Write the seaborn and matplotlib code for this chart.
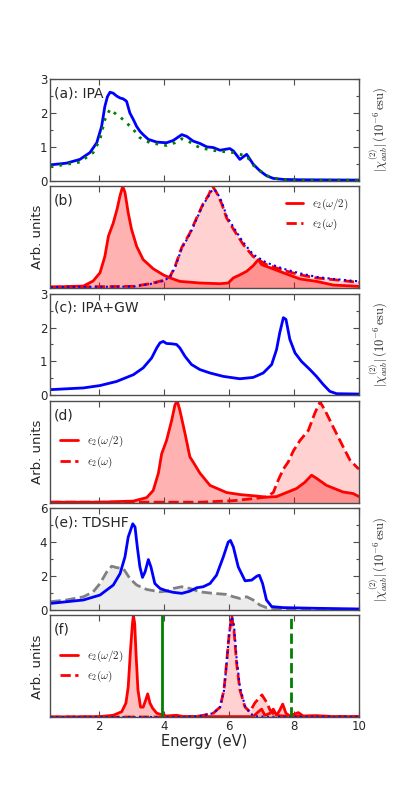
import numpy as np
import matplotlib
matplotlib.use("Agg")
import matplotlib.pyplot as plt
from matplotlib.ticker import MultipleLocator
import seaborn as sns

# ---- data ----
# (a) IPA
a_E_chi = [0.5, 0.99, 1.40, 1.71, 1.92, 2.07, 2.17, 2.25, 2.33, 2.43, 2.53, 2.62, 2.67, 2.72, 2.79, 2.84, 2.94,
           3.05, 3.15, 3.25, 3.35, 3.51, 3.77, 4.07, 4.28, 4.54, 4.69, 4.89, 5.10, 5.31, 5.51, 5.72, 6.02, 6.13,
           6.33, 6.54, 6.74, 6.95, 7.15, 7.36, 7.67, 8.18, 10.0]
a_chi = [0.47, 0.52, 0.63, 0.83, 1.12, 1.6, 2.19, 2.48, 2.61, 2.58, 2.5, 2.45, 2.43, 2.42, 2.38, 2.34, 2.0,
         1.8, 1.6, 1.46, 1.36, 1.22, 1.14, 1.12, 1.19, 1.36, 1.31, 1.17, 1.10, 1.0, 0.98, 0.9, 0.95, 0.88,
         0.63, 0.78, 0.49, 0.29, 0.15, 0.07, 0.04, 0.03, 0.02]
a_E_alt = [0.5, 1.40, 1.81, 2.02, 2.17, 2.33, 2.48, 2.74, 3.05, 3.25, 3.56, 4.07, 4.33, 4.54, 4.79, 5.10, 5.61,
           6.13, 6.54, 6.74, 7.15, 7.56, 8.18, 10.0]
a_chi_alt = [0.41, 0.55, 0.83, 1.22, 1.8, 2.11, 1.99, 1.8, 1.51, 1.27, 1.12, 1.04, 1.12, 1.24, 1.14, 0.97, 0.88,
             0.83, 0.73, 0.46, 0.15, 0.04, 0.02, 0.02]

# (b) IPA eps2
b_E_half = [0.5, 1.51, 1.81, 2.02, 2.17, 2.28, 2.43, 2.55, 2.64, 2.72, 2.79, 2.89, 2.99, 3.15, 3.35, 3.66, 3.97,
            4.18, 4.48, 5.10, 5.72, 5.97, 6.13, 6.33, 6.54, 6.74, 6.90, 7.00, 7.26, 7.67, 8.18, 8.69, 9.21, 10.0]
b_eps_half = [0.01, 0.02, 0.07, 0.15, 0.31, 0.51, 0.64, 0.78, 0.91, 1.0, 0.94, 0.74, 0.58, 0.41, 0.28, 0.19, 0.13,
              0.10, 0.066, 0.05, 0.043, 0.05, 0.1, 0.13, 0.165, 0.22, 0.28, 0.23, 0.2, 0.15, 0.09, 0.066, 0.03, 0.017]
b_E_full = [0.5, 3.05, 3.56, 3.97, 4.18, 4.33, 4.54, 4.79, 5.00, 5.20, 5.36, 5.49, 5.61, 5.77, 5.92, 6.13, 6.43,
            6.74, 7.15, 7.67, 8.18, 8.69, 9.21, 10.0]
b_eps_full = [0.01, 0.017, 0.043, 0.076, 0.115, 0.21, 0.40, 0.54, 0.69, 0.83, 0.91, 1.0, 0.94, 0.83, 0.69, 0.58, 0.43,
              0.31, 0.23, 0.175, 0.13, 0.1, 0.083, 0.056]
b_eps_full_blue = [0.01, 0.015, 0.04, 0.07, 0.11, 0.20, 0.39, 0.53, 0.68, 0.82, 0.90, 0.97, 0.95, 0.85, 0.71, 0.60,
                   0.45, 0.33, 0.25, 0.19, 0.145, 0.11, 0.09, 0.066]

# (c) IPA+GW
c_E = [0.5, 1.51, 2.02, 2.53, 3.05, 3.35, 3.61, 3.77, 3.87, 3.97, 4.07, 4.23, 4.38, 4.48, 4.64, 4.84, 5.10, 5.41,
       5.82, 6.33, 6.74, 7.05, 7.31, 7.46, 7.56, 7.67, 7.75, 7.87, 8.03, 8.23, 8.49, 8.69, 8.90, 9.10, 9.31, 10.0]
c_chi = [0.17, 0.22, 0.29, 0.41, 0.61, 0.81, 1.1, 1.4, 1.55, 1.59, 1.53, 1.52, 1.5, 1.4, 1.15, 0.91, 0.76, 0.66,
         0.56, 0.49, 0.53, 0.66, 0.91, 1.35, 1.85, 2.29, 2.24, 1.65, 1.25, 1.0, 0.76, 0.56, 0.32, 0.12, 0.05, 0.04]

# (d) IPA+GW eps2
d_E_half = [0.5, 2.02, 3.05, 3.46, 3.66, 3.82, 3.92, 4.07, 4.23, 4.33, 4.40, 4.48, 4.64, 4.79, 4.89, 5.10, 5.41,
            5.92, 6.33, 6.85, 7.15, 7.46, 7.77, 8.08, 8.33, 8.54, 8.69, 9.00, 9.51, 9.82, 10.0]
d_eps_half = [0.005, 0.005, 0.016, 0.05, 0.12, 0.29, 0.48, 0.61, 0.81, 0.96, 1.0, 0.91, 0.68, 0.45, 0.40, 0.29, 0.17,
              0.10, 0.08, 0.065, 0.055, 0.06, 0.10, 0.14, 0.2, 0.27, 0.24, 0.17, 0.105, 0.09, 0.06]
d_E_full = [0.5, 5.10, 6.13, 6.74, 7.15, 7.36, 7.51, 7.67, 7.82, 7.98, 8.18, 8.44, 8.64, 8.80, 8.95, 9.21, 9.51,
            9.72, 9.93, 10.0]
d_eps_full = [0.005, 0.005, 0.02, 0.04, 0.056, 0.1, 0.22, 0.33, 0.40, 0.51, 0.61, 0.71, 0.88, 0.99, 0.91, 0.74, 0.55,
              0.42, 0.35, 0.33]

# (e) TDSHF
e_E = [0.5, 1.51, 2.02, 2.43, 2.64, 2.79, 2.89, 3.03, 3.10, 3.17, 3.25, 3.33, 3.41, 3.51, 3.59, 3.71, 3.87, 4.07,
       4.28, 4.54, 4.79, 5.00, 5.20, 5.41, 5.61, 5.82, 5.97, 6.04, 6.13, 6.28, 6.49, 6.69, 6.85, 6.93, 7.03, 7.15,
       7.31, 7.67, 8.69, 10.0]
e_chi = [0.39, 0.59, 0.88, 1.47, 2.15, 3.13, 4.3, 5.08, 4.89, 3.71, 2.54, 1.92, 2.25, 2.97, 2.54, 1.56, 1.27, 1.13,
         1.04, 0.98, 1.11, 1.31, 1.37, 1.56, 2.05, 3.13, 4.0, 4.1, 3.71, 2.54, 1.72, 1.76, 1.99, 2.05, 1.56, 0.59,
         0.2, 0.14, 0.1, 0.06]
e_E_ipa = [0.5, 0.99, 1.51, 1.81, 2.02, 2.23, 2.38, 2.53, 2.74, 2.94, 3.15, 3.46, 3.87, 4.07, 4.28, 4.54, 4.79,
           5.10, 5.51, 5.92, 6.13, 6.33, 6.54, 6.74, 6.95, 7.15, 7.46, 8.18, 10.0]
e_chi_ipa = [0.49, 0.59, 0.78, 1.07, 1.56, 2.25, 2.58, 2.5, 2.44, 1.86, 1.47, 1.21, 1.07, 1.11, 1.27, 1.37, 1.27,
             1.07, 0.98, 0.92, 0.78, 0.68, 0.78, 0.59, 0.29, 0.14, 0.06, 0.04, 0.04]

# (f) TDSHF eps2
f_E_half = [0.5, 2.02, 2.43, 2.69, 2.82, 2.89, 2.96, 3.02, 3.05, 3.09, 3.13, 3.19, 3.27, 3.35, 3.43, 3.49, 3.56,
            3.64, 3.77, 4.07, 4.38, 4.59, 6.74, 6.90, 7.00, 7.10, 7.26, 7.36, 7.46, 7.56, 7.65, 7.75, 7.87, 8.13,
            8.28, 8.69, 9.21, 10.0]
f_eps_half = [0.003, 0.007, 0.02, 0.055, 0.14, 0.3, 0.66, 0.92, 1.0, 0.92, 0.63, 0.27, 0.1, 0.1, 0.17, 0.23, 0.14,
              0.09, 0.04, 0.013, 0.02, 0.007, 0.007, 0.055, 0.08, 0.02, 0.04, 0.08, 0.02, 0.07, 0.13, 0.04, 0.013,
              0.046, 0.013, 0.016, 0.007, 0.007]
f_E_full = [0.5, 4.59, 5.10, 5.51, 5.72, 5.84, 5.92, 6.00, 6.08, 6.15, 6.23, 6.33, 6.49, 6.64, 6.79, 7.01, 7.15,
            7.26, 7.41, 7.67, 10.0]
f_eps_full = [0.003, 0.003, 0.013, 0.04, 0.1, 0.27, 0.53, 0.82, 1.0, 0.85, 0.53, 0.27, 0.1, 0.055, 0.14, 0.22, 0.15,
              0.07, 0.02, 0.013, 0.007]
f_E_blue = [0.5, 4.59, 5.10, 5.51, 5.72, 5.84, 5.92, 6.00, 6.08, 6.15, 6.23, 6.33, 6.49, 6.64, 6.79, 7.15, 7.67, 10.0]
f_eps_blue = [0.003, 0.003, 0.013, 0.04, 0.1, 0.26, 0.52, 0.82, 0.99, 0.9, 0.58, 0.3, 0.11, 0.04, 0.01, 0.005,
              0.005, 0.005]
f_gap_lines = [3.94, 7.92]

panel_titles = ["(a): IPA", "(b)", "(c): IPA+GW", "(d)", "(e): TDSHF", "(f)"]
chi_label = r"$|\chi^{(2)}_{aab}|\,(10^{-6}\,\mathrm{esu})$"
eps_labels = [r"$\epsilon_2(\omega/2)$", r"$\epsilon_2(\omega)$"]

sns.set_style("white")
plt.rcParams["font.family"] = ["DejaVu Sans"]
plt.rcParams["mathtext.fontset"] = "cm"
plt.rcParams["lines.solid_joinstyle"] = "round"
plt.rcParams["lines.dash_joinstyle"] = "round"


def line(ax, x, y, **kw):
    sns.lineplot(x=x, y=y, ax=ax, **kw)


fig, axes = plt.subplots(6, 1, figsize=(3.99, 7.97), dpi=100, sharex=True)
fig.subplots_adjust(left=0.1253, right=0.8997, top=0.9009, bottom=0.1, hspace=0.054)

# (a)
ax = axes[0]
line(ax, a_E_chi, a_chi, color="b", lw=2)
line(ax, a_E_alt, a_chi_alt, color="g", lw=2, linestyle=(0, (1, 2.2)))
ax.set_ylim(0, 3)

# (b)
ax = axes[1]
ax.fill_between(b_E_half, b_eps_half, color="r", alpha=0.3, lw=0)
ax.fill_between(b_E_full, b_eps_full, color="r", alpha=0.18, lw=0)
line(ax, b_E_half, b_eps_half, color="r", lw=2)
line(ax, b_E_full, b_eps_full, color="r", lw=2, linestyle="--")
line(ax, b_E_full, b_eps_full_blue, color="b", lw=1.5, linestyle=":")

# (c)
ax = axes[2]
line(ax, c_E, c_chi, color="b", lw=2)
ax.set_ylim(0, 3)

# (d)
ax = axes[3]
ax.fill_between(d_E_half, d_eps_half, color="r", alpha=0.3, lw=0)
ax.fill_between(d_E_full, d_eps_full, color="r", alpha=0.18, lw=0)
line(ax, d_E_half, d_eps_half, color="r", lw=2)
line(ax, d_E_full, d_eps_full, color="r", lw=2, linestyle="--")

# (e)
ax = axes[4]
ax.fill_between(e_E_ipa, e_chi_ipa, color="0.5", alpha=0.15, lw=0)
line(ax, e_E_ipa, e_chi_ipa, color="0.5", lw=2, linestyle="--")
line(ax, e_E, e_chi, color="b", lw=2)
ax.set_ylim(0, 6)

# (f)
ax = axes[5]
ax.fill_between(f_E_half, f_eps_half, color="r", alpha=0.25, lw=0)
ax.fill_between(f_E_full, f_eps_full, color="r", alpha=0.18, lw=0)
line(ax, f_E_half, f_eps_half, color="r", lw=2)
line(ax, f_E_full, f_eps_full, color="r", lw=2, linestyle="--")
line(ax, f_E_blue, f_eps_blue, color="b", lw=1.5, linestyle=":")
ax.axvline(f_gap_lines[0], color="g", lw=2)
ax.axvline(f_gap_lines[1], color="g", lw=2, linestyle="--")

for i, ax in enumerate(axes):
    ax.set_xlim(0.48, 10)
    ax.xaxis.set_major_locator(MultipleLocator(2))
    for s in ax.spines.values():
        s.set_color("0.3")
        s.set_linewidth(1)
    ax.tick_params(direction="in", which="both", top=True, bottom=True, left=True, right=True,
                   labelsize=8.5, length=4, width=0.8, color="0.3", pad=2)
    ax.tick_params(which="minor", length=2)
    ax.text(0.012, 0.93, panel_titles[i], transform=ax.transAxes, ha="left", va="top", fontsize=10)
    ax.set_xlabel("")
    if i % 2 == 0:
        ax.yaxis.set_major_locator(MultipleLocator(2 if i == 4 else 1))
        ax.yaxis.set_minor_locator(MultipleLocator(1 if i == 4 else 0.5))
        ax.yaxis.set_label_position("right")
        ax.set_ylabel(chi_label, fontsize=9, labelpad=6)
    else:
        ax.set_ylim(0, 1.0)
        ax.set_yticks([])
        ax.set_ylabel("Arb. units", fontsize=9.5, labelpad=4)
        h = [plt.Line2D([], [], color="r", lw=2), plt.Line2D([], [], color="r", lw=2, linestyle="--")]
        if i == 1:
            ax.legend(h, eps_labels, loc="upper right", frameon=False, fontsize=8, handlelength=1.6)
        else:
            ax.legend(h, eps_labels, loc="center left", bbox_to_anchor=(0.0, 0.5), frameon=False,
                      fontsize=8, handlelength=1.6)

axes[-1].set_xlabel("Energy (eV)", fontsize=10.5, labelpad=1)

fig.savefig("out.png", dpi=100)
